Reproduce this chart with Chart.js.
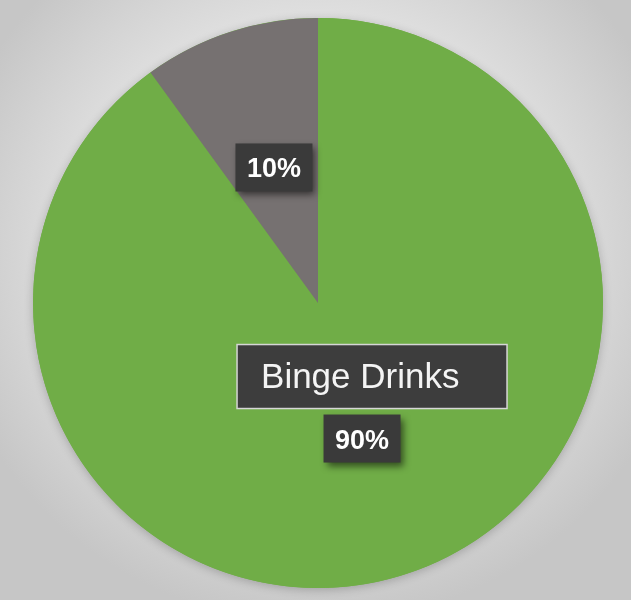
<!DOCTYPE html>
<html>
<head>
<meta charset="utf-8">
<title>Binge Drinks</title>
<script src="https://cdn.jsdelivr.net/npm/chart.js@4.4.1/dist/chart.umd.min.js"></script>
<style>
  html, body {
    margin: 0;
    padding: 0;
    width: 631px;
    height: 600px;
    overflow: hidden;
    background: radial-gradient(ellipse 60% 62% at 50% 42%, #f3f3f3 0%, #e8e8e8 50%, #d4d4d4 80%, #c6c6c6 100%);
  }
  canvas { display: block; }
</style>
</head>
<body>
<canvas id="pie" width="631" height="600"></canvas>
<script>
// Dữ liệu biểu đồ
const labels = ['Binge Drinks', 'Non-Binge'];
const values = [90, 10];
const sliceColors = ['#70AD47', '#767171'];
const showCategory = [true, false];

const total = values.reduce((acc, v) => acc + v, 0);

// Bóng mờ nhẹ phía sau hình tròn
const pieShadow = {
  id: 'pieShadow',
  beforeDatasetsDraw(chart) {
    const arc = chart.getDatasetMeta(0).data[0];
    if (!arc) return;
    const ctx = chart.ctx;
    ctx.save();
    ctx.shadowColor = 'rgba(0,0,0,0.22)';
    ctx.shadowBlur = 10;
    ctx.shadowOffsetY = 2;
    ctx.fillStyle = sliceColors[0];
    ctx.beginPath();
    ctx.arc(arc.x, arc.y, arc.outerRadius, 0, Math.PI * 2);
    ctx.fill();
    ctx.restore();
  }
};

// Nhãn dữ liệu dạng hộp tối
const boxLabels = {
  id: 'boxLabels',
  afterDatasetsDraw(chart) {
    const ctx = chart.ctx;
    const meta = chart.getDatasetMeta(0);
    meta.data.forEach((arc, i) => {
      const p = arc.getCenterPoint();
      const pct = Math.round(values[i] / total * 100) + '%';

      // hộp phần trăm
      const w = 77, h = 48;
      ctx.save();
      ctx.shadowColor = 'rgba(0,0,0,0.55)';
      ctx.shadowBlur = 7;
      ctx.shadowOffsetX = 3;
      ctx.shadowOffsetY = 4;
      ctx.fillStyle = '#3a3a3a';
      ctx.fillRect(p.x - w / 2, p.y - h / 2, w, h);
      ctx.restore();

      ctx.save();
      ctx.fillStyle = '#ffffff';
      ctx.font = 'bold 27px "Liberation Sans", Arial, sans-serif';
      ctx.textAlign = 'center';
      ctx.textBaseline = 'alphabetic';
      ctx.fillText(pct, p.x, p.y + 10);
      ctx.restore();

      // hộp tên danh mục
      if (showCategory[i]) {
        const bw = 270, bh = 64;
        const bx = p.x - 125, by = p.y - 94;
        ctx.save();
        ctx.fillStyle = '#3d3d3d';
        ctx.fillRect(bx, by, bw, bh);
        ctx.strokeStyle = '#d6d6d6';
        ctx.lineWidth = 1.5;
        ctx.strokeRect(bx, by, bw, bh);
        ctx.fillStyle = '#f4f4f4';
        ctx.font = '35px "Liberation Sans", Arial, sans-serif';
        ctx.textAlign = 'left';
        ctx.textBaseline = 'alphabetic';
        ctx.fillText(labels[i], bx + 24, by + 43);
        ctx.restore();
      }
    });
  }
};

const ctx = document.getElementById('pie');
const myChart = new Chart(ctx, {
  type: 'pie',
  data: {
    labels: labels,
    datasets: [{
      data: values,
      backgroundColor: sliceColors,
      borderWidth: 0,
      hoverBorderWidth: 0,
      hoverOffset: 0
    }]
  },
  options: {
    responsive: false,
    animation: false,
    layout: {
      padding: { top: 18, bottom: 12, left: 33, right: 28 }
    },
    plugins: {
      legend: { display: false },
      tooltip: { enabled: false }
    }
  },
  plugins: [pieShadow, boxLabels]
});
</script>
</body>
</html>
